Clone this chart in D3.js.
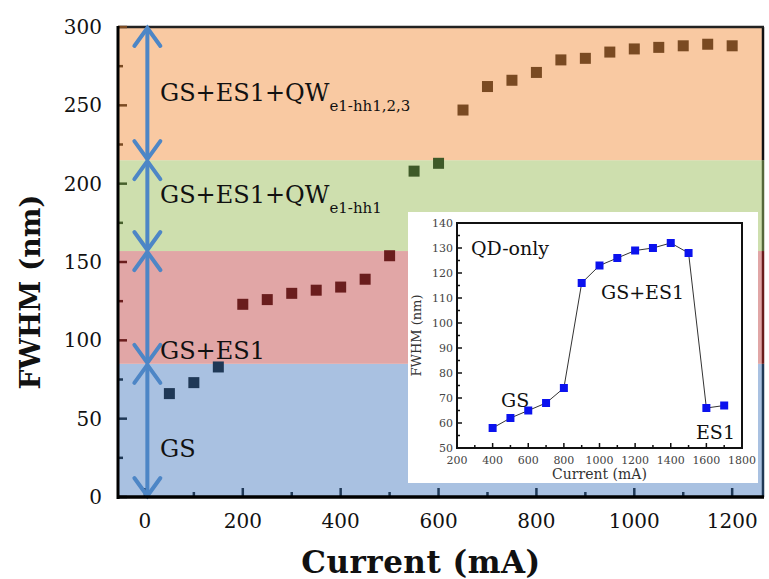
<!DOCTYPE html>
<meta charset='utf-8'>
<head>
  <title>FWHM vs current</title>
</head>
<style>
body { margin: 0; background: #fff; }
text { font-family: "DejaVu Serif", "Liberation Serif", serif; fill: #111; }
</style>
<body>
<svg width='769' height='579'></svg>
<script src='https://cdn.jsdelivr.net/npm/d3@7'></script>
<script>
// main data: current (mA) and FWHM (nm), grouped by regime
var gsCurrent = [50, 100, 150];
var gsFwhm = [66, 73, 83];
var es1Current = [200, 250, 300, 350, 400, 450, 500];
var es1Fwhm = [123, 126, 130, 132, 134, 139, 154];
var qw1Current = [550, 600];
var qw1Fwhm = [208, 213];
var qw3Current = [650, 700, 750, 800, 850, 900, 950, 1000, 1050, 1100, 1150, 1200];
var qw3Fwhm = [247, 262, 266, 271, 279, 280, 284, 286, 287, 288, 289, 288];

// band limits (nm)
var bandLow = [0, 85, 157, 215];
var bandHigh = [85, 157, 215, 300];
var bandFill = ['#a9c1e1', '#e1a6a6', '#cedfae', '#f9c9a2'];
var bandDark = ['#1f3856', '#6a1d1d', '#47602c', '#7a4a22'];
var bandEdge = ['#1f3856', '#6a1d1d', '#55683a', '#111'];

// inset data (QD-only)
var qdCurrent = [400, 500, 600, 700, 800, 900, 1000, 1100, 1200, 1300, 1400, 1500, 1600, 1700];
var qdFwhm = [58, 62, 65, 68, 74, 116, 123, 126, 129, 130, 132, 128, 66, 67];

var xTicks = [0, 200, 400, 600, 800, 1000, 1200];
var yTicks = [0, 50, 100, 150, 200, 250, 300];
var insetXTicks = [200, 400, 600, 800, 1000, 1200, 1400, 1600, 1800];
var insetYTicks = [50, 60, 70, 80, 90, 100, 110, 120, 130, 140];

var svg = d3.select('svg');
var x = d3.scaleLinear().domain([-55, 1263]).range([118, 763]);
var y = d3.scaleLinear().domain([0, 300]).range([497, 27]);

function bandOf(v) {
  for (var i = 0; i < bandLow.length; i++) if (v < bandHigh[i]) return i;
  return bandLow.length - 1;
}

// bands
svg.selectAll('rect.band').data(bandLow).enter().append('rect')
  .attr('class', 'band')
  .attr('x', x.range()[0]).attr('width', x.range()[1] - x.range()[0])
  .attr('y', function(d, i) { return y(bandHigh[i]); })
  .attr('height', function(d, i) { return y(d) - y(bandHigh[i]); })
  .attr('fill', function(d, i) { return bandFill[i]; });

// right border coloured per band
svg.selectAll('line.redge').data(bandLow).enter().append('line')
  .attr('x1', x.range()[1]).attr('x2', x.range()[1])
  .attr('y1', function(d, i) { return y(bandHigh[i]); })
  .attr('y2', function(d) { return y(d); })
  .attr('stroke', function(d, i) { return bandEdge[i]; })
  .attr('stroke-width', 2.5);
svg.append('line').attr('x1', x.range()[0]).attr('x2', x.range()[1] + 1)
  .attr('y1', y(300)).attr('y2', y(300)).attr('stroke', '#222').attr('stroke-width', 2.5);

// left ticks (inside), coloured by band
var yMinor = d3.range(0, 301, 25);
svg.selectAll('line.ytick').data(yMinor).enter().append('line')
  .attr('x1', x.range()[0]).attr('x2', function(d) { return x.range()[0] + (d % 50 === 0 ? 9 : 5); })
  .attr('y1', y).attr('y2', y)
  .attr('stroke', function(d) { return bandDark[bandOf(d === 300 ? 299 : d)]; })
  .attr('stroke-width', 2.5);

// bottom ticks (inside)
var xMinor = d3.range(0, 1201, 100);
svg.selectAll('line.xtick').data(xMinor).enter().append('line')
  .attr('x1', x).attr('x2', x)
  .attr('y1', y(0)).attr('y2', function(d) { return y(0) - (d % 200 === 0 ? 9 : 5); })
  .attr('stroke', bandDark[0]).attr('stroke-width', 2.5);

// double arrows
var arrowX = x(5);
var arrowColor = '#4d86c6';
bandLow.forEach(function(lo, i) {
  var y1 = y(bandHigh[i]) + 1, y2 = y(lo) - 1;
  svg.append('line').attr('x1', arrowX).attr('x2', arrowX).attr('y1', y1).attr('y2', y2)
    .attr('stroke', arrowColor).attr('stroke-width', 4);
  svg.append('path')
    .attr('d', 'M' + (arrowX - 13) + ',' + (y1 + 18) + 'L' + arrowX + ',' + y1 + 'L' + (arrowX + 13) + ',' + (y1 + 18))
    .attr('fill', 'none').attr('stroke', arrowColor).attr('stroke-width', 4).attr('stroke-linecap', 'round');
  svg.append('path')
    .attr('d', 'M' + (arrowX - 13) + ',' + (y2 - 18) + 'L' + arrowX + ',' + y2 + 'L' + (arrowX + 13) + ',' + (y2 - 18))
    .attr('fill', 'none').attr('stroke', arrowColor).attr('stroke-width', 4).attr('stroke-linecap', 'round');
});

// band labels
function bandLabel(ty, main, sub) {
  var t = svg.append('text').attr('x', 160).attr('y', ty).style('font-size', '24px').text(main);
  if (sub) {
    t.append('tspan').attr('dy', 10).style('font-size', '15px').text(sub);
  }
}
bandLabel(457, 'GS');
bandLabel(359, 'GS+ES1');
bandLabel(203, 'GS+ES1+QW', 'e1-hh1');
bandLabel(101, 'GS+ES1+QW', 'e1-hh1,2,3');

// main data squares
var groups = [
  [gsCurrent, gsFwhm, bandDark[0]],
  [es1Current, es1Fwhm, bandDark[1]],
  [qw1Current, qw1Fwhm, '#3e5a28'],
  [qw3Current, qw3Fwhm, bandDark[3]]
];
var sq = 11;
groups.forEach(function(g) {
  svg.selectAll(null).data(g[0]).enter().append('rect')
    .attr('x', function(d) { return x(d) - sq / 2; })
    .attr('y', function(d, i) { return y(g[1][i]) - sq / 2; })
    .attr('width', sq).attr('height', sq)
    .attr('fill', g[2]);
});

// inset
svg.append('rect').attr('x', 408).attr('y', 212).attr('width', 350).attr('height', 271).attr('fill', '#fff');
var xi = d3.scaleLinear().domain([200, 1800]).range([457, 742]);
var yi = d3.scaleLinear().domain([50, 140]).range([448, 223]);

svg.selectAll('line.ixt').data(d3.range(200, 1801, 100)).enter().append('line')
  .attr('x1', xi).attr('x2', xi)
  .attr('y1', yi(50)).attr('y2', function(d) { return yi(50) - (d % 200 === 0 ? 5 : 3); })
  .attr('stroke', '#111').attr('stroke-width', 1.5);
svg.selectAll('line.iyt').data(d3.range(50, 141, 5)).enter().append('line')
  .attr('x1', xi(200)).attr('x2', function(d) { return xi(200) + (d % 10 === 0 ? 5 : 3); })
  .attr('y1', yi).attr('y2', yi)
  .attr('stroke', '#111').attr('stroke-width', 1.5);
svg.append('rect').attr('x', xi(200)).attr('y', yi(140))
  .attr('width', xi(1800) - xi(200)).attr('height', yi(50) - yi(140))
  .attr('fill', 'none').attr('stroke', '#111').attr('stroke-width', 2);

svg.selectAll('text.ixl').data(insetXTicks).enter().append('text')
  .attr('x', xi).attr('y', yi(50) + 16).attr('text-anchor', 'middle')
  .style('font-size', '11px').style('fill', '#444').text(function(d) { return d; });
svg.selectAll('text.iyl').data(insetYTicks).enter().append('text')
  .attr('x', xi(200) - 4).attr('y', function(d) { return yi(d) + 4; }).attr('text-anchor', 'end')
  .style('font-size', '11px').style('fill', '#444').text(function(d) { return d; });

svg.append('text').attr('x', (xi(200) + xi(1800)) / 2).attr('y', 479).attr('text-anchor', 'middle')
  .style('font-size', '14px').style('fill', '#333').text('Current (mA)');
svg.append('text').attr('transform', 'translate(421,' + ((yi(50) + yi(140)) / 2) + ') rotate(-90)')
  .attr('text-anchor', 'middle').style('font-size', '13px').style('fill', '#333').text('FWHM (nm)');

svg.append('path').datum(qdCurrent)
  .attr('d', d3.line().x(function(d) { return xi(d); }).y(function(d, i) { return yi(qdFwhm[i]); }))
  .attr('fill', 'none').attr('stroke', '#333').attr('stroke-width', 1);
svg.selectAll(null).data(qdCurrent).enter().append('rect')
  .attr('x', function(d) { return xi(d) - 4; })
  .attr('y', function(d, i) { return yi(qdFwhm[i]) - 4; })
  .attr('width', 8).attr('height', 8).attr('fill', '#0b12ee');

svg.append('text').attr('x', 471).attr('y', 255).style('font-size', '19px').text('QD-only');
svg.append('text').attr('x', 601).attr('y', 299).style('font-size', '19px').text('GS+ES1');
svg.append('text').attr('x', 501).attr('y', 407).style('font-size', '19px').text('GS');
svg.append('text').attr('x', 696).attr('y', 439).style('font-size', '19px').text('ES1');

// main axes lines
svg.append('line').attr('x1', x.range()[0]).attr('x2', x.range()[0])
  .attr('y1', y(300) - 1).attr('y2', y(0) + 2).attr('stroke', '#000').attr('stroke-width', 3);
svg.append('line').attr('x1', x.range()[0] - 1).attr('x2', x.range()[1] + 1)
  .attr('y1', y(0)).attr('y2', y(0)).attr('stroke', '#000').attr('stroke-width', 3.5);

// main tick labels
svg.selectAll('text.xl').data(xTicks).enter().append('text')
  .attr('x', x).attr('y', 528).attr('text-anchor', 'middle')
  .style('font-size', '20px').text(function(d) { return d; });
svg.selectAll('text.yl').data(yTicks).enter().append('text')
  .attr('x', 102).attr('y', function(d) { return y(d) + 7; }).attr('text-anchor', 'end')
  .style('font-size', '20px').text(function(d) { return d; });

// main axis titles
svg.append('text').attr('x', 421).attr('y', 573).attr('text-anchor', 'middle')
  .style('font-size', '31px').style('font-weight', 'bold').style('letter-spacing', '0.5px').text('Current (mA)');
svg.append('text').attr('transform', 'translate(40,' + ((y(0) + y(300)) / 2 + 30) + ') rotate(-90)')
  .attr('text-anchor', 'middle').style('font-size', '28px').style('font-weight', 'bold').text('FWHM (nm)');
</script>
</body>
</html>
